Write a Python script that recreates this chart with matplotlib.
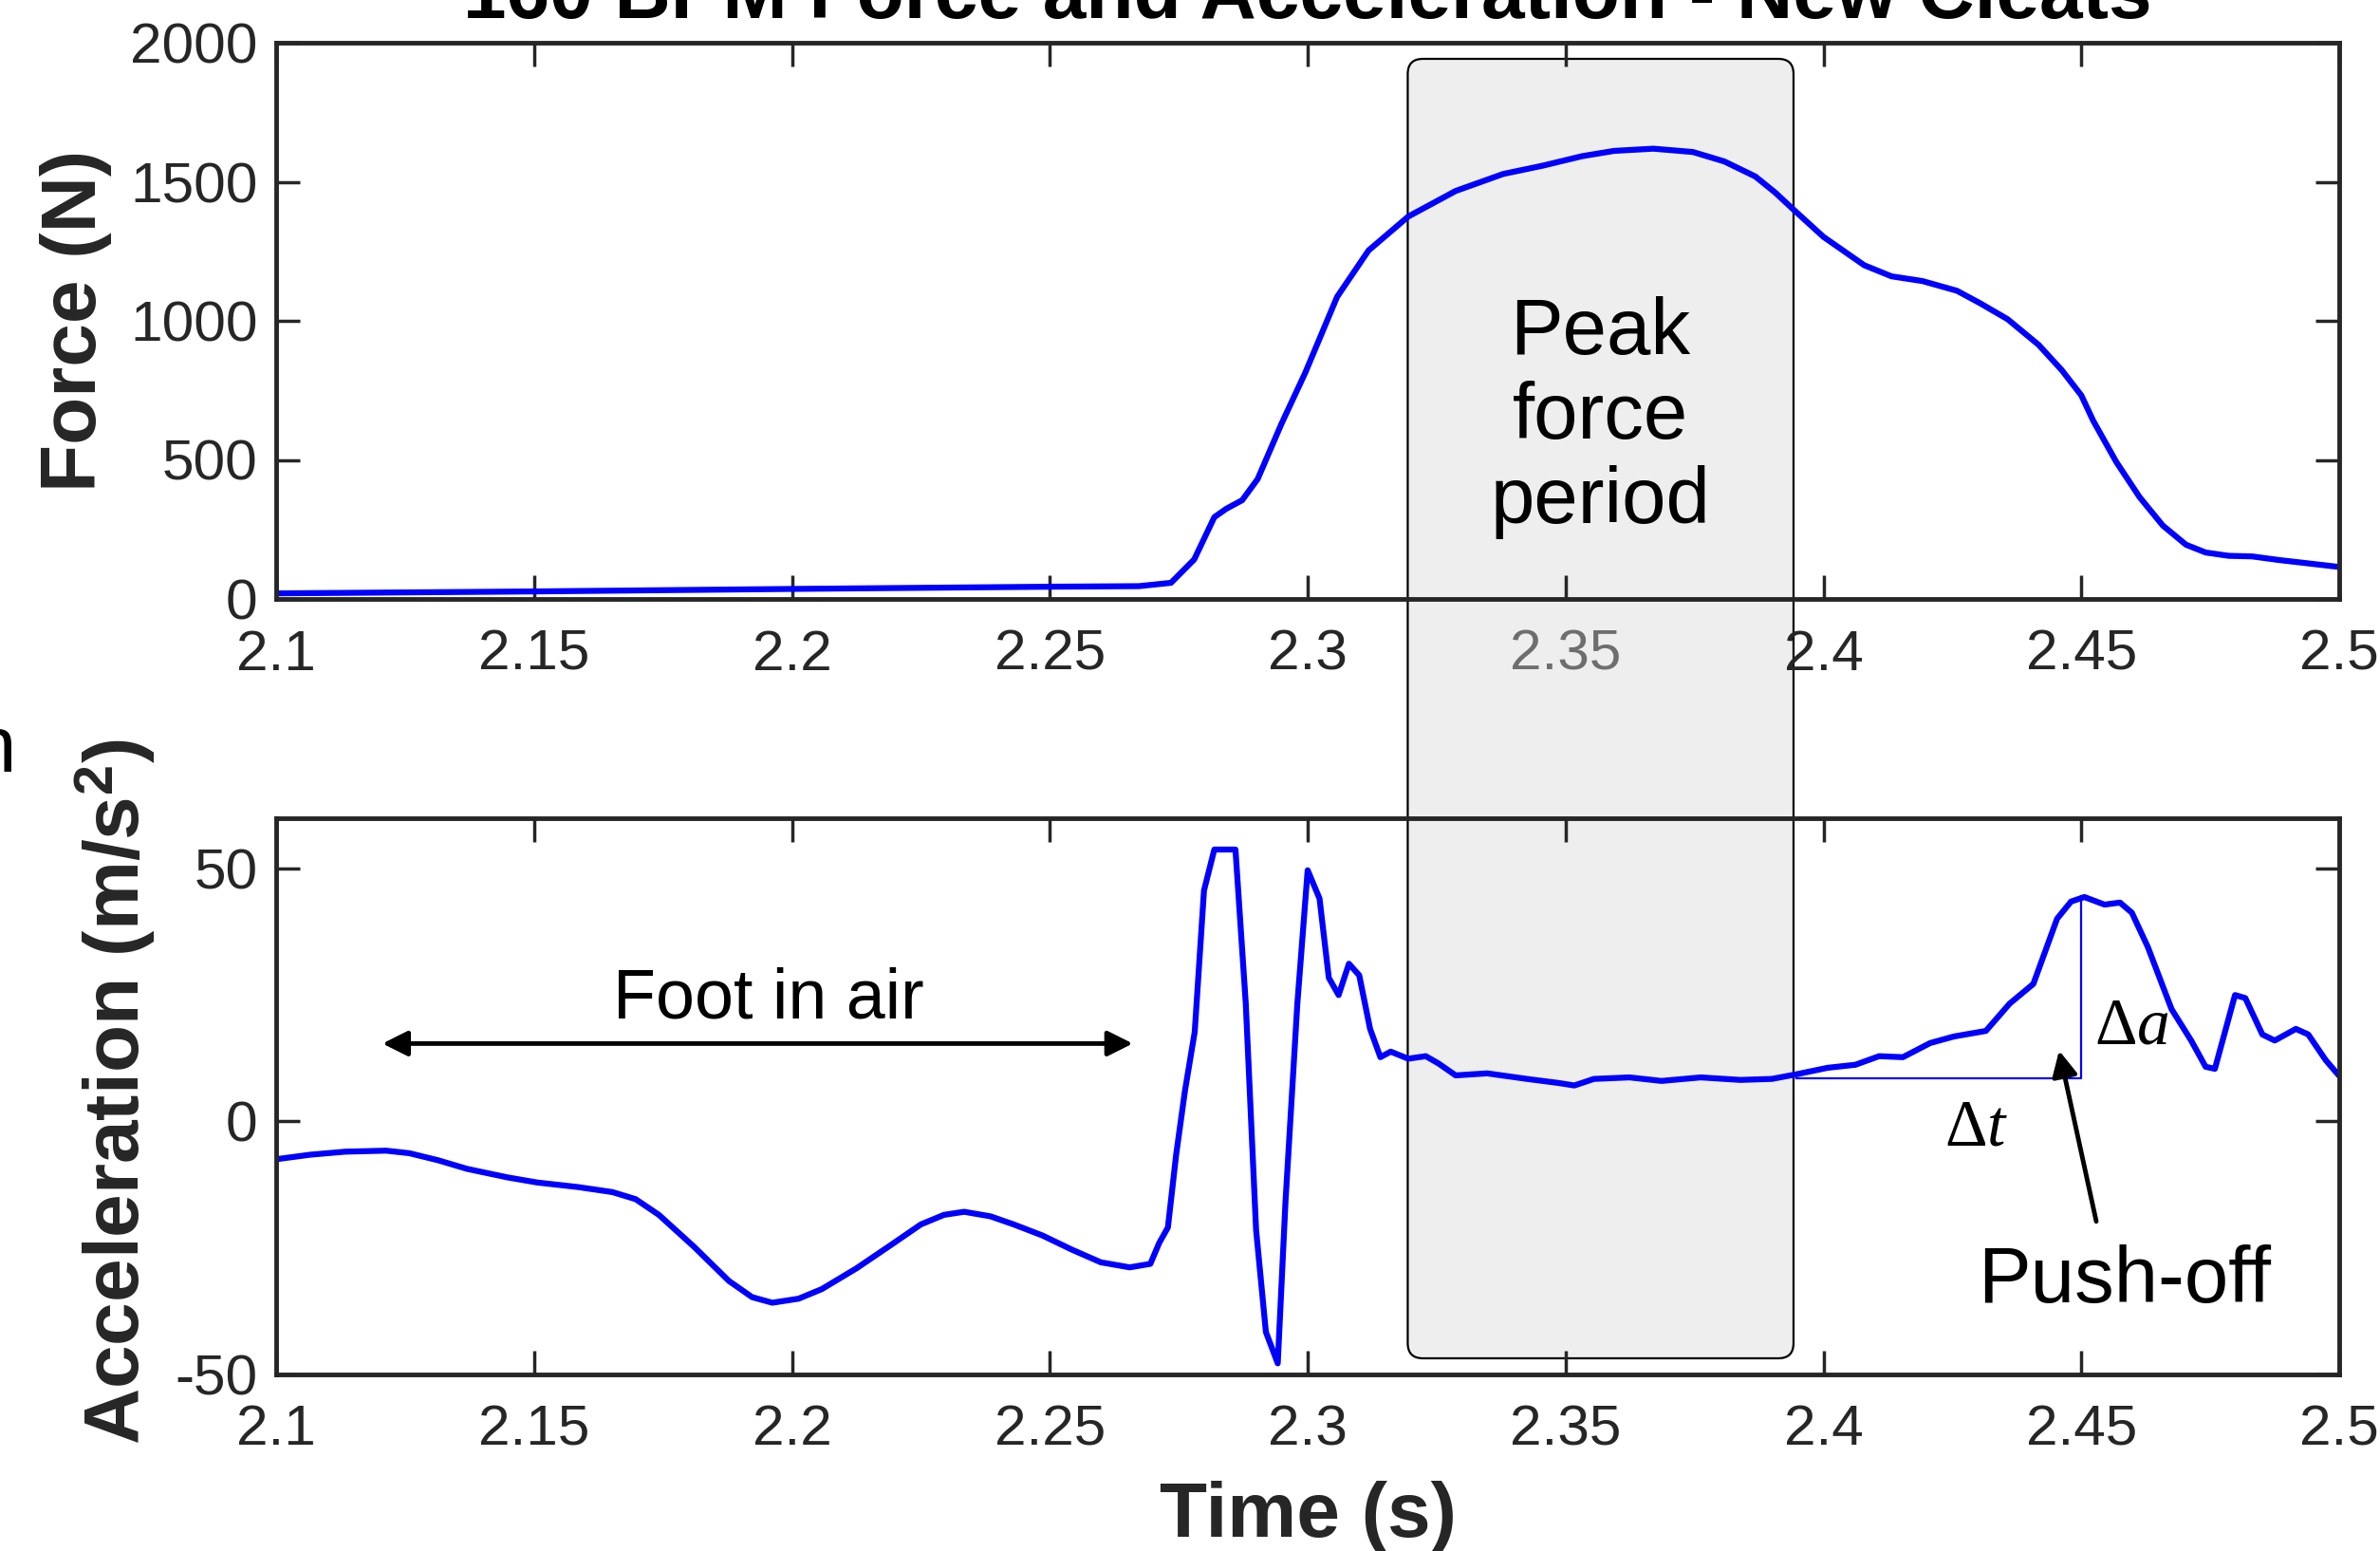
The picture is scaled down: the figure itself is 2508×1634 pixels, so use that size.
import matplotlib
matplotlib.use("Agg")
import matplotlib.pyplot as plt
from matplotlib.patches import FancyBboxPatch
from matplotlib.transforms import IdentityTransform

plt.rcParams['font.family'] = ['Liberation Sans', 'DejaVu Sans']
plt.rcParams['axes.unicode_minus'] = False
plt.rcParams['mathtext.fontset'] = 'custom'
plt.rcParams['mathtext.rm'] = 'Liberation Serif'
plt.rcParams['mathtext.it'] = 'Liberation Serif:italic'
plt.rcParams['mathtext.bf'] = 'Liberation Sans:bold'

# ---------------- data ----------------
title = "160 BPM Force and Acceleration - New Cleats"
force_t = [2.10, 2.15, 2.20, 2.25, 2.2673, 2.2735, 2.278, 2.2819, 2.2842, 2.2873, 2.2903,
           2.2949, 2.2995, 2.3057, 2.3118, 2.3195, 2.3287, 2.3379, 2.3456, 2.3532, 2.3594,
           2.367, 2.3747, 2.3808, 2.3868, 2.3906, 2.3942, 2.4, 2.4079, 2.4132, 2.4192,
           2.4259, 2.4304, 2.4357, 2.4417, 2.4462, 2.45, 2.4523, 2.4568, 2.4613, 2.4658,
           2.4703, 2.4741, 2.4786, 2.4831, 2.4883, 2.4944, 2.5]
force_n = [20, 27, 36, 44, 46, 58, 142, 294, 324, 355, 431, 629, 812, 1086, 1253, 1375,
           1467, 1528, 1558, 1592, 1611, 1619, 1607, 1573, 1519, 1462, 1400, 1302, 1200,
           1160, 1143, 1108, 1063, 1006, 914, 823, 732, 641, 492, 366, 264, 195, 167, 155,
           153, 140, 127, 115]

acc_t = [2.1, 2.1066, 2.1134, 2.1213, 2.1258, 2.1314, 2.137, 2.1449, 2.1506, 2.1585,
         2.1652, 2.1697, 2.1742, 2.181, 2.1878, 2.1923, 2.1962, 2.2013, 2.2058, 2.2125,
         2.2193, 2.225, 2.2295, 2.2334, 2.2385, 2.243, 2.2486, 2.2543, 2.2599, 2.2655,
         2.2695, 2.2712, 2.2729, 2.2745, 2.2762,
         2.2781, 2.2799, 2.2819, 2.286, 2.288, 2.29, 2.2919, 2.2942, 2.2957,
         2.298, 2.3, 2.3023, 2.3041, 2.306, 2.308, 2.31, 2.3121, 2.3141, 2.3161, 2.3195,
         2.3229, 2.3253, 2.3287, 2.3348, 2.3425, 2.3486, 2.3517, 2.3555, 2.3624, 2.3686,
         2.3762, 2.3839, 2.39, 2.3947, 2.4008, 2.4062, 2.4108, 2.4154, 2.4207, 2.4253,
         2.4315, 2.4361, 2.4407, 2.4453, 2.448, 2.4506, 2.4545, 2.4575, 2.4598, 2.4629,
         2.4675, 2.4713, 2.4741, 2.4759, 2.4798, 2.4818, 2.4851, 2.4875, 2.4916, 2.494,
         2.4974, 2.5]
acc_v = [-7.5, -6.6, -6.0, -5.8, -6.3, -7.7, -9.4, -11.1, -12.1, -13.0,
         -14.0, -15.4, -18.5, -24.8, -31.6, -34.8, -35.9, -35.1, -33.2, -29.1,
         -24.4, -20.4, -18.5, -17.9, -18.8, -20.4, -22.6, -25.4, -27.9, -28.9,
         -28.2, -24.1, -21.0, -6.6, 6.0,
         17.7, 45.7, 53.8, 53.8, 23.3, -21.5, -41.7, -47.9, -15.9,
         23.3, 49.7, 44.1, 28.4, 25.0, 31.2, 28.9, 18.3, 12.7, 13.8, 12.4,
         12.9, 11.5, 9.1, 9.5, 8.4, 7.6, 7.1, 8.4, 8.7, 8.0,
         8.7, 8.2, 8.4, 9.3, 10.6, 11.2, 12.9, 12.7, 15.5, 16.8,
         17.9, 23.3, 27.2, 40.1, 43.5, 44.4, 42.9, 43.3, 41.3, 34.5,
         22.2, 16.0, 10.8, 10.4, 25.0, 24.4, 17.2, 16.0, 18.3, 17.2,
         12.1, 9.0]

x_ticks = [2.1, 2.15, 2.2, 2.25, 2.3, 2.35, 2.4, 2.45, 2.5]
x_ticklabels = ['2.1', '2.15', '2.2', '2.25', '2.3', '2.35', '2.4', '2.45', '2.5']
force_ticks = [0, 500, 1000, 1500, 2000]
acc_ticks = [-50, 0, 50]

peak_period = [2.3194, 2.3942]
push_start = [2.3947, 8.5]
push_peak = [2.45, 44.6]

# ---------------- figure ----------------
W, H = 2508, 1634
DPI = 100
fig = plt.figure(figsize=(W / DPI, H / DPI), dpi=DPI)

dark = '#262626'
blue = '#0000FF'

ax1 = fig.add_axes([291 / W, 1 - 631 / H, 2174 / W, 586 / H])
ax2 = fig.add_axes([291 / W, 1 - 1447.5 / H, 2174 / W, 585.5 / H])

for ax in (ax1, ax2):
    ax.set_facecolor('none')
    ax.set_xlim(2.1, 2.5)
    ax.set_xticks(x_ticks)
    ax.set_xticklabels(x_ticklabels)
    for s in ax.spines.values():
        s.set_linewidth(3.5)
        s.set_color(dark)
    ax.tick_params(direction='in', length=18, width=2.5, color=dark,
                   labelsize=43.5, labelcolor=dark, top=True, right=True)
    ax.tick_params(axis='x', pad=23)
    ax.tick_params(axis='y', pad=14)

ax1.plot(force_t, force_n, color=blue, lw=4.5, solid_joinstyle='round',
         solid_capstyle='round')
ax1.set_ylim(0, 2000)
ax1.set_yticks(force_ticks)

ax2.plot(acc_t, acc_v, color=blue, lw=4.5, solid_joinstyle='round',
         solid_capstyle='round')
ax2.set_ylim(-50, 60)
ax2.set_yticks(acc_ticks)

# lighter label under the shaded box
for lab in ax1.get_xticklabels():
    if lab.get_text() == '2.35':
        lab.set_color('#6e6e6e')

# Δt / Δa construction lines
ax2.plot([push_start[0], push_peak[0], push_peak[0]],
         [push_start[1], push_start[1], push_peak[1]], color=blue, lw=1.6)

# labels
fig.text(1378 / W, 1 - 19 / H, title, ha='center', va='baseline',
         fontsize=59, fontweight='bold', color='black')
fig.text(80 / W, 1 - 338 / H, 'Force (N)', rotation=90, ha='center', va='center',
         fontsize=59, fontweight='bold', color=dark)
fig.text(122 / W, 1 - 1150 / H, r'Acceleration (m/s$^{\mathbf{2}}$)', rotation=90,
         ha='center', va='center', fontsize=59, fontweight='bold', color=dark)
fig.text(1378 / W, 1 - 1598 / H, 'Time (s)', ha='center', va='center',
         fontsize=59, fontweight='bold', color=dark)
# clipped fragment at the left edge
fig.text(17 / W, 1 - 813 / H, 'n', ha='right', va='baseline', fontsize=60, color='black')

# shaded peak force box (behind the curves)
fig.canvas.draw()
x0 = ax1.transData.transform((peak_period[0], 0))[0]
x1 = ax1.transData.transform((peak_period[1], 0))[0]
y0 = H - 1431
y1 = H - 62
box = FancyBboxPatch((x0, y0), x1 - x0, y1 - y0,
                     boxstyle='round,pad=0,rounding_size=16',
                     transform=IdentityTransform(), facecolor='#EEEEEE',
                     edgecolor='black', linewidth=1.6, zorder=-1)
fig.patches.append(box)

ax1.text(2.3567, 652, 'Peak\nforce\nperiod', ha='center', va='center',
         fontsize=60, linespacing=1.18, color='black')

# Foot in air
ax2.annotate('', xy=(2.1206, 15.4), xytext=(2.2661, 15.4),
             arrowprops=dict(arrowstyle='<|-|>', color='black', lw=3.5,
                             mutation_scale=40, shrinkA=0, shrinkB=0))
ax2.text(2.1954, 20.5, 'Foot in air', ha='center', va='baseline', fontsize=53)

# Push-off
ax2.annotate('', xy=(2.4457, 14.0), xytext=(2.4529, -19.8),
             arrowprops=dict(arrowstyle='-|>', color='black', lw=3.5,
                             mutation_scale=40, shrinkA=0, shrinkB=0))
ax2.text(2.4583, -31.6, 'Push-off', ha='center', va='center', fontsize=60)
ax2.text(2.4296, -1.3, r'$\Delta t$', ha='center', va='center', fontsize=50)
ax2.text(2.4598, 18.8, r'$\Delta a$', ha='center', va='center', fontsize=50)

fig.savefig('out.png', dpi=DPI)
